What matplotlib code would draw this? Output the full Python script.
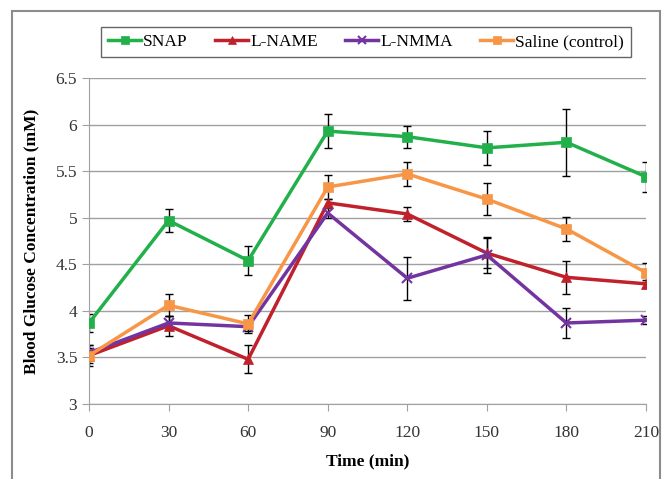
import matplotlib.pyplot as plt
from matplotlib.patches import Rectangle

plt.rcParams['font.family'] = ['Liberation Serif', 'DejaVu Serif']

time = [0, 30, 60, 90, 120, 150, 180, 210]

snap = [3.87, 4.97, 4.54, 5.93, 5.87, 5.75, 5.81, 5.44]
snap_err = [0.10, 0.12, 0.16, 0.18, 0.12, 0.18, 0.36, 0.16]

lname = [3.52, 3.84, 3.48, 5.16, 5.04, 4.62, 4.36, 4.29]
lname_err = [0.11, 0.11, 0.15, 0.04, 0.07, 0.16, 0.18, 0.04]

lnmma = [3.55, 3.87, 3.83, 5.05, 4.35, 4.60, 3.87, 3.90]
lnmma_err = [0.08, 0.07, 0.05, 0.05, 0.23, 0.19, 0.16, 0.04]

saline = [3.52, 4.06, 3.86, 5.33, 5.47, 5.20, 4.88, 4.41]
saline_err = [0.08, 0.12, 0.10, 0.13, 0.13, 0.17, 0.13, 0.10]

labels = ['SNAP', 'L-NAME', 'L-NMMA', 'Saline (control)']
series = [snap, lname, lnmma, saline]
errs = [snap_err, lname_err, lnmma_err, saline_err]
colors = ['#22B04B', '#C0212B', '#7434A0', '#F79646']
markers = ['s', '^', 'x', 's']
msizes = [7.5, 7.5, 7, 7.5]

fig = plt.figure(figsize=(6.68, 4.79), dpi=100)
ax = fig.add_axes([89/668, 75/479, 557/668, 326/479])

# outer chart frame
fig.patches.append(Rectangle((12/668, -0.1), 648/668, 1.1 - 11/479,
                             transform=fig.transFigure, fill=False,
                             edgecolor='#8c8c8c', linewidth=1.5))

handles = []
for y, e, c, m, ms, lab in zip(series, errs, colors, markers, msizes, labels):
    ax.errorbar(time, y, yerr=e, fmt='none', ecolor='black', elinewidth=1,
                capsize=3, capthick=1, zorder=2)
    h, = ax.plot(time, y, color=c, marker=m, markersize=ms, linewidth=2.5,
                 markeredgewidth=1.5 if m == 'x' else 0.5, markeredgecolor=c,
                 label=lab, zorder=3)
    handles.append(h)

ax.set_xlim(0, 210)
ax.set_ylim(3, 6.5)
ax.set_xticks(time)
ax.set_yticks([3, 3.5, 4, 4.5, 5, 5.5, 6, 6.5])
ax.set_yticklabels(['3', '3.5', '4', '4.5', '5', '5.5', '6', '6.5'])
ax.grid(axis='y', color='#a0a0a0', linewidth=1)
ax.set_axisbelow(True)
for s in ['top', 'right']:
    ax.spines[s].set_visible(False)
for s in ['left', 'bottom']:
    ax.spines[s].set_color('#a0a0a0')
ax.tick_params(axis='both', colors='#a0a0a0', labelcolor='#333333',
               labelsize=12.5, length=5)
ax.tick_params(axis='x', pad=10)

ax.set_xlabel('Time (min)', fontsize=12.5, fontweight='bold', labelpad=9)
ax.set_ylabel('Blood Glucose Concentration (mM)', fontsize=12.5,
              fontweight='bold', labelpad=12)

leg = fig.legend(handles=handles, loc='center', ncol=4,
                 bbox_to_anchor=(366/668, 1 - 42/479), fontsize=12.5,
                 frameon=True, fancybox=False, handlelength=1.9,
                 handletextpad=0.1, columnspacing=1.6, borderpad=0.4,
                 borderaxespad=0, markerscale=0.75)
leg.get_frame().set_edgecolor('#404040')
leg.get_frame().set_linewidth(1)

fig.savefig('out.png', dpi=100)
